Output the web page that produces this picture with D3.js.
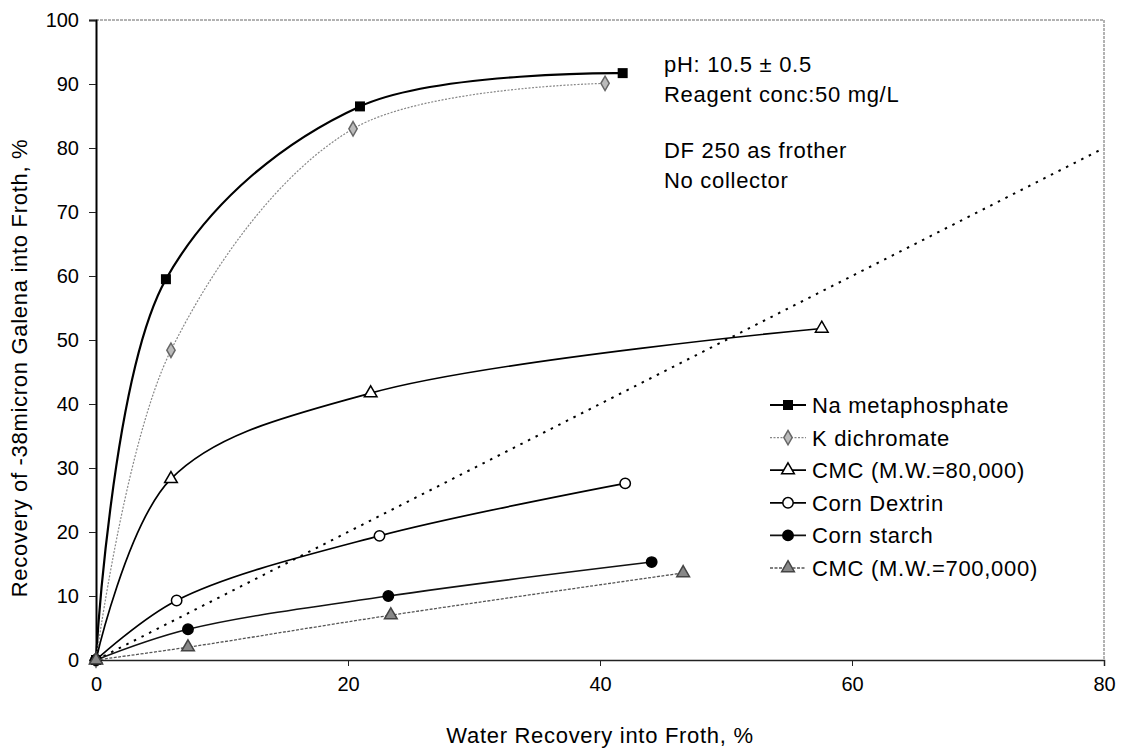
<!DOCTYPE html>
<html>
<head>
<meta charset="utf-8">
<script src="https://cdn.jsdelivr.net/npm/d3@7"></script>
<style>
  html, body { margin: 0; padding: 0; background: #fff; }
  svg text { font-family: Arial, "Liberation Sans", sans-serif; fill: #000; }
</style>
</head>
<body>
<svg id="chart" width="1128" height="751"></svg>
<script>
// ---- Data ----
const seriesNames = ["Na metaphosphate", "K dichromate", "CMC (M.W.=80,000)", "Corn Dextrin", "Corn starch", "CMC (M.W.=700,000)"];
const naX = [0, 5.55, 20.95, 41.8];
const naY = [0, 59.5, 86.5, 91.7];
const kX = [0, 5.95, 20.4, 40.4];
const kY = [0, 48.4, 83.0, 90.1];
const cmc80X = [0, 5.95, 21.8, 57.6];
const cmc80Y = [0, 28.3, 41.7, 51.8];
const dexX = [0, 6.4, 22.5, 42.0];
const dexY = [0, 9.3, 19.4, 27.6];
const starchX = [0, 7.3, 23.2, 44.1];
const starchY = [0, 4.8, 10.0, 15.3];
const cmc700X = [0, 7.3, 23.4, 46.6];
const cmc700Y = [0, 2.0, 7.0, 13.6];
const diagX = [0, 80];
const diagY = [0, 80];
const xTicks = [0, 20, 40, 60, 80];
const yTicks = [0, 10, 20, 30, 40, 50, 60, 70, 80, 90, 100];
const notes = ["pH: 10.5 \u00b1 0.5", "Reagent conc:50 mg/L", "", "DF 250 as frother", "No collector"];

// ---- Layout ----
const svg = d3.select("#chart");
const L = 96, R = 1104, T = 20, B = 660;
const x = d3.scaleLinear().domain([0, 80]).range([L, R]);
const y = d3.scaleLinear().domain([0, 100]).range([B, T]);
const FS = 22, LS = 0.7;

// frame top/right
svg.append("line").attr("x1", L).attr("x2", R).attr("y1", T).attr("y2", T)
  .attr("stroke", "#666").attr("stroke-width", 1).attr("stroke-dasharray", "3,1");
svg.append("line").attr("x1", R).attr("x2", R).attr("y1", T).attr("y2", B)
  .attr("stroke", "#666").attr("stroke-width", 1).attr("stroke-dasharray", "3,1");

// axes
const xAxis = svg.append("g").attr("transform", `translate(0,${B})`)
  .call(d3.axisBottom(x).tickValues(xTicks).tickSize(6).tickPadding(11).tickFormat(d3.format("d")));
const yAxis = svg.append("g").attr("transform", `translate(${L},0)`)
  .call(d3.axisLeft(y).tickValues(yTicks).tickSize(7).tickPadding(10).tickFormat(d3.format("d")));
[xAxis, yAxis].forEach(g => {
  g.selectAll("text").attr("font-size", 20).attr("fill", "#000")
    .attr("font-family", "Arial, 'Liberation Sans', sans-serif");
  g.selectAll(".tick line").attr("stroke", "#222");
});
xAxis.select(".domain").attr("stroke", "#222").attr("stroke-width", 1.5);
yAxis.select(".domain").attr("stroke", "#000").attr("stroke-width", 2);

// axis titles
svg.append("text").attr("x", (L + R) / 2).attr("y", 743).attr("text-anchor", "middle")
  .attr("font-size", FS).attr("letter-spacing", LS).text("Water Recovery into Froth, %");
svg.append("text").attr("transform", `translate(27,368) rotate(-90)`)
  .attr("text-anchor", "middle").attr("font-size", FS).attr("letter-spacing", LS)
  .text("Recovery of -38micron Galena into Froth, %");

// diagonal reference line
svg.append("line").attr("x1", x(diagX[0])).attr("y1", y(diagY[0]))
  .attr("x2", x(diagX[1])).attr("y2", y(diagY[1]))
  .attr("stroke", "#000").attr("stroke-width", 2).attr("stroke-dasharray", "2.5,6");

const series = [
  { name: seriesNames[0], xs: naX, ys: naY, stroke: "#000", width: 2.2, dash: null, marker: "square", fill: "#000", mstroke: "#000" },
  { name: seriesNames[1], xs: kX, ys: kY, stroke: "#888", width: 1.2, dash: "2,1.5", marker: "diamond", fill: "#bbb", mstroke: "#666" },
  { name: seriesNames[2], xs: cmc80X, ys: cmc80Y, stroke: "#000", width: 1.7, dash: null, marker: "triangle", fill: "#fff", mstroke: "#000" },
  { name: seriesNames[3], xs: dexX, ys: dexY, stroke: "#000", width: 1.7, dash: null, marker: "circle", fill: "#fff", mstroke: "#000" },
  { name: seriesNames[4], xs: starchX, ys: starchY, stroke: "#111", width: 1.6, dash: null, marker: "circle", fill: "#000", mstroke: "#000" },
  { name: seriesNames[5], xs: cmc700X, ys: cmc700Y, stroke: "#555", width: 1.3, dash: "3,1.5", marker: "triangle", fill: "#888", mstroke: "#444" }
];

const symbolFor = {
  square: d3.symbolSquare, diamond: d3.symbolDiamond, triangle: d3.symbolTriangle, circle: d3.symbolCircle
};
const sizeFor = { square: 100, diamond: 60, triangle: 70, circle: 85 };

const line = d3.line().x(d => x(d[0])).y(d => y(d[1])).curve(d3.curveCatmullRom.alpha(0.5));

function drawMarker(g, s, cx, cy) {
  g.append("path")
    .attr("d", d3.symbol().type(symbolFor[s.marker]).size(sizeFor[s.marker])())
    .attr("transform", `translate(${cx},${cy})`)
    .attr("fill", s.fill).attr("stroke", s.mstroke).attr("stroke-width", s.marker === "square" ? 0 : 1.5);
}

series.forEach(s => {
  const pts = s.xs.map((v, i) => [v, s.ys[i]]);
  svg.append("path").datum(pts).attr("d", line).attr("fill", "none")
    .attr("stroke", s.stroke).attr("stroke-width", s.width)
    .attr("stroke-dasharray", s.dash);
  const g = svg.append("g");
  pts.forEach(p => drawMarker(g, s, x(p[0]), y(p[1])));
});

// legend
const lg = svg.append("g");
const lx = 770, ly0 = 405, dy = 32.6;
series.forEach((s, i) => {
  const yy = ly0 + i * dy;
  lg.append("line").attr("x1", lx).attr("x2", lx + 36).attr("y1", yy).attr("y2", yy)
    .attr("stroke", s.stroke).attr("stroke-width", s.width).attr("stroke-dasharray", s.dash);
  drawMarker(lg, s, lx + 18, yy);
  lg.append("text").attr("x", lx + 42).attr("y", yy + 8).attr("font-size", FS)
    .attr("letter-spacing", LS).text(s.name);
});

// annotation
const ny = [72, 102, 0, 158, 188];
notes.forEach((t, i) => {
  if (!t) return;
  svg.append("text").attr("x", 664).attr("y", ny[i]).attr("font-size", FS)
    .attr("letter-spacing", LS).text(t);
});
</script>
</body>
</html>
